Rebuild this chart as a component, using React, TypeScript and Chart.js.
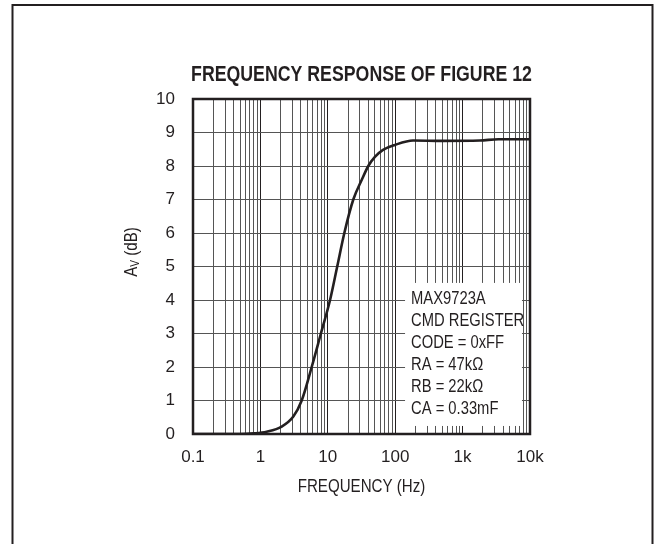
import React, { useEffect, useRef } from "react";
import { Chart, registerables } from "chart.js";

Chart.register(...registerables);

// ---- Data ----
const frequencies = [0.1, 0.5, 0.8, 1.24, 2.07, 3.08, 4.1, 5.77, 7.9, 10.8, 13.8, 17.6, 23.9, 31.8, 39.9, 50, 66, 99, 184, 500, 1800, 3400, 10000];
const gainDb = [0, 0, 0.02, 0.07, 0.22, 0.52, 1.0, 2.0, 3.0, 4.0, 5.0, 6.0, 7.0, 7.58, 8.0, 8.27, 8.48, 8.63, 8.76, 8.75, 8.76, 8.8, 8.8];
const xDecades = [0.1, 1, 10, 100, 1000, 10000];
const xDecadeLabels = ["0.1", "1", "10", "100", "1k", "10k"];
const yMin = 0;
const yMax = 10;
const titleText = "FREQUENCY RESPONSE OF FIGURE 12";
const xAxisTitle = "FREQUENCY (Hz)";
const noteLines = ["MAX9723A", "CMD REGISTER", "CODE = 0xFF", "RA = 47k\u03A9", "RB = 22k\u03A9", "CA = 0.33mF"];
// note box extent in data units (frequency, dB)
const noteBoxX = [140, 7600];
const noteBoxY = [4.51, 0.24];

const INK = "#231f20";
const FONT = "'Liberation Sans', Arial, sans-serif";

function isDecade(v: number) {
  return xDecades.some((d) => Math.abs(v - d) / d < 1e-6);
}

function narrowText(ctx: CanvasRenderingContext2D, text: string, x: number, y: number, font: string, align: CanvasTextAlign, sx: number) {
  ctx.save();
  ctx.translate(x, y);
  ctx.scale(sx, 1);
  ctx.font = font;
  ctx.textAlign = align;
  ctx.textBaseline = "middle";
  ctx.fillStyle = INK;
  ctx.fillText(text, 0, 0);
  ctx.restore();
}

const decorations = {
  id: "decorations",
  beforeDatasetsDraw(chart: any) {
    const { ctx, scales } = chart;
    const x = scales.x;
    const y = scales.y;
    const left = x.getPixelForValue(noteBoxX[0]);
    const right = x.getPixelForValue(noteBoxX[1]);
    const top = y.getPixelForValue(noteBoxY[0]);
    const bottom = y.getPixelForValue(noteBoxY[1]);
    ctx.save();
    ctx.fillStyle = "#ffffff";
    ctx.fillRect(left, top, right - left, bottom - top);
    ctx.restore();
    noteLines.forEach((t, i) => {
      narrowText(ctx, t, left + 6, top + 16.5 + i * 22, `18px ${FONT}`, "left", 0.82);
    });
  },
  afterDraw(chart: any) {
    const { ctx, chartArea } = chart;
    ctx.save();
    ctx.strokeStyle = INK;
    ctx.lineWidth = 2.5;
    ctx.strokeRect(chartArea.left, chartArea.top, chartArea.right - chartArea.left, chartArea.bottom - chartArea.top);
    ctx.lineWidth = 2;
    ctx.strokeRect(12.5, 5, 640, 620);
    ctx.restore();

    const cxMid = (chartArea.left + chartArea.right) / 2;
    narrowText(ctx, titleText, cxMid, 75, `bold 22px ${FONT}`, "center", 0.806);
    narrowText(ctx, xAxisTitle, cxMid, 487, `18px ${FONT}`, "center", 0.84);

    // y-axis title: A_V (dB), rotated
    ctx.save();
    ctx.translate(132, 252);
    ctx.rotate(-Math.PI / 2);
    ctx.scale(0.84, 1);
    const bigFont = `18px ${FONT}`;
    const smallFont = `12px ${FONT}`;
    ctx.font = bigFont;
    const wA = ctx.measureText("A").width;
    const wRest = ctx.measureText(" (dB)").width;
    ctx.font = smallFont;
    const wV = ctx.measureText("V").width;
    let cx = -(wA + wV + wRest) / 2;
    ctx.fillStyle = INK;
    ctx.textAlign = "left";
    ctx.textBaseline = "middle";
    ctx.font = bigFont;
    ctx.fillText("A", cx, 0);
    cx += wA;
    ctx.font = smallFont;
    ctx.fillText("V", cx, 4);
    cx += wV;
    ctx.font = bigFont;
    ctx.fillText(" (dB)", cx, 0);
    ctx.restore();
  },
};

export default function App() {
  const canvasRef = useRef<HTMLCanvasElement | null>(null);

  useEffect(() => {
    const canvas = canvasRef.current;
    if (!canvas) return;
    const chart = new Chart(canvas, {
      type: "line",
      data: {
        datasets: [
          {
            data: frequencies.map((f, i) => ({ x: f, y: gainDb[i] })),
            borderColor: INK,
            borderWidth: 2.6,
            pointRadius: 0,
            fill: false,
            cubicInterpolationMode: "monotone",
          },
        ],
      },
      options: {
        responsive: true,
        maintainAspectRatio: false,
        animation: false,
        events: [],
        layout: { padding: { top: 99, right: 124, bottom: 0, left: 0 } },
        plugins: { legend: { display: false }, tooltip: { enabled: false }, title: { display: false } },
        scales: {
          x: {
            type: "logarithmic",
            min: xDecades[0],
            max: xDecades[xDecades.length - 1],
            afterBuildTicks: (scale: any) => {
              const ticks: any[] = [];
              for (let d = 0; d < xDecades.length - 1; d++) {
                for (let m = 1; m <= 9; m++) {
                  ticks.push({ value: Number((xDecades[d] * m).toPrecision(6)) });
                }
              }
              ticks.push({ value: xDecades[xDecades.length - 1] });
              scale.ticks = ticks;
            },
            afterFit: (scale: any) => {
              scale.height = 110;
            },
            grid: {
              drawTicks: false,
              color: (c: any) => (c.tick && isDecade(c.tick.value) ? INK : "#555555"),
              lineWidth: 1,
            },
            border: { display: false },
            ticks: {
              autoSkip: false,
              maxRotation: 0,
              padding: 13,
              color: INK,
              font: { family: FONT, size: 17 },
              callback: (value: any) => {
                const v = Number(value);
                const idx = xDecades.findIndex((d) => Math.abs(v - d) / d < 1e-6);
                return idx >= 0 ? xDecadeLabels[idx] : "";
              },
            },
          },
          y: {
            type: "linear",
            min: yMin,
            max: yMax,
            afterFit: (scale: any) => {
              scale.width = 193;
            },
            grid: { drawTicks: false, color: "#555555", lineWidth: 1 },
            border: { display: false },
            ticks: {
              stepSize: 1,
              padding: 18,
              color: INK,
              font: { family: FONT, size: 17 },
            },
          },
        },
      },
      plugins: [decorations],
    });
    return () => chart.destroy();
  }, []);

  return (
    <div style={{ position: "fixed", left: 0, top: 0, width: 654, height: 544, background: "#fff" }}>
      <canvas ref={canvasRef} />
    </div>
  );
}
